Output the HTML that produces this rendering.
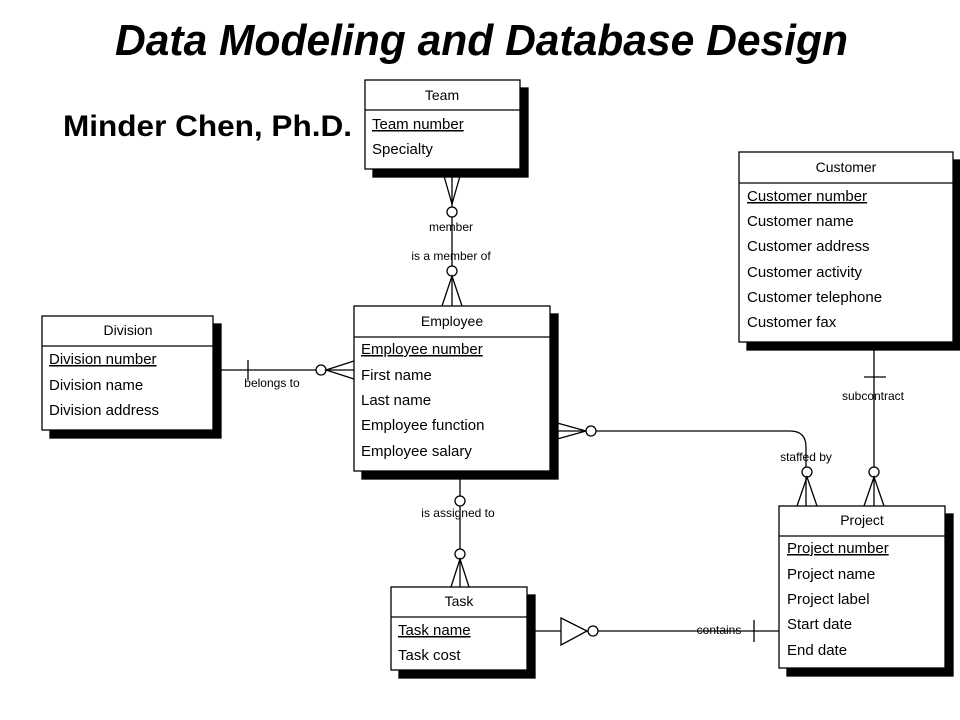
<!DOCTYPE html>
<html><head><meta charset="utf-8"><style>html,body{margin:0;padding:0;background:#fff}svg{display:block}</style></head>
<body>
<svg width="960" height="720" viewBox="0 0 960 720" xmlns="http://www.w3.org/2000/svg" font-family="Liberation Sans, Arial, sans-serif">
<rect width="960" height="720" fill="#fff"/>
<text x="115" y="55" font-size="44" font-weight="bold" font-style="italic" textLength="733" lengthAdjust="spacingAndGlyphs">Data Modeling and Database Design</text>
<text x="63" y="136" font-size="30" font-weight="bold" textLength="289" lengthAdjust="spacingAndGlyphs">Minder Chen, Ph.D.</text>

<g fill="none" stroke="#000" stroke-width="1.3">
<!-- Team-Employee -->
<line x1="452" y1="169" x2="452" y2="306"/>
<polyline points="442,169 452,204 462,169"/>
<circle cx="452" cy="212" r="5" fill="#fff"/>
<circle cx="452" cy="271" r="5" fill="#fff"/>
<polyline points="442,306 452,276 462,306"/>
<!-- Division-Employee -->
<line x1="213" y1="370" x2="354" y2="370"/>
<line x1="248" y1="360" x2="248" y2="380"/>
<circle cx="321" cy="370" r="5" fill="#fff"/>
<polyline points="354,361 326,370 354,379"/>
<!-- Employee-Project -->
<path d="M550 431 H790 Q806 431 806 447 V506"/>
<polyline points="550,421 586,431 550,441"/>
<circle cx="591" cy="431" r="5" fill="#fff"/>
<circle cx="807" cy="472" r="5" fill="#fff"/>
<polyline points="797,506 807,477 817,506"/>
<!-- Customer-Project -->
<line x1="874" y1="342" x2="874" y2="506"/>
<line x1="864" y1="377" x2="886" y2="377"/>
<circle cx="874" cy="472" r="5" fill="#fff"/>
<polyline points="864,506 874,477 884,506"/>
<!-- Employee-Task -->
<line x1="460" y1="471" x2="460" y2="587"/>
<circle cx="460" cy="501" r="5" fill="#fff"/>
<circle cx="460" cy="554" r="5" fill="#fff"/>
<polyline points="451,587 460,559 469,587"/>
<!-- Task-Project -->
<line x1="527" y1="631" x2="779" y2="631"/>
<polygon points="561,618 587,631 561,645" fill="#fff"/>
<circle cx="593" cy="631" r="5" fill="#fff"/>
<line x1="754" y1="620" x2="754" y2="642"/>
</g>

<g font-size="12" text-anchor="middle">
<text x="451" y="231" paint-order="stroke" stroke="#fff" stroke-width="0">member</text>
<text x="451" y="260">is a member of</text>
<text x="272" y="387">belongs to</text>
<text x="806" y="461">staffed by</text>
<text x="873" y="400">subcontract</text>
<text x="458" y="517">is assigned to</text>
<text x="719" y="634">contains</text>
</g>

<!-- Entities -->
<g stroke="#000" stroke-width="1.3">
<!-- Team -->
<rect x="373" y="88" width="155" height="89" fill="#000"/>
<rect x="365" y="80" width="155" height="89" fill="#fff"/>
<line x1="365" y1="110" x2="520" y2="110"/>
<!-- Customer -->
<rect x="747" y="160" width="214" height="190" fill="#000"/>
<rect x="739" y="152" width="214" height="190" fill="#fff"/>
<line x1="739" y1="183" x2="953" y2="183"/>
<!-- Division -->
<rect x="50" y="324" width="171" height="114" fill="#000"/>
<rect x="42" y="316" width="171" height="114" fill="#fff"/>
<line x1="42" y1="346" x2="213" y2="346"/>
<!-- Employee -->
<rect x="362" y="314" width="196" height="165" fill="#000"/>
<rect x="354" y="306" width="196" height="165" fill="#fff"/>
<line x1="354" y1="337" x2="550" y2="337"/>
<!-- Project -->
<rect x="787" y="514" width="166" height="162" fill="#000"/>
<rect x="779" y="506" width="166" height="162" fill="#fff"/>
<line x1="779" y1="536" x2="945" y2="536"/>
<!-- Task -->
<rect x="399" y="595" width="136" height="83" fill="#000"/>
<rect x="391" y="587" width="136" height="83" fill="#fff"/>
<line x1="391" y1="617" x2="527" y2="617"/>
</g>

<g font-size="14" text-anchor="middle">
<text x="442" y="100">Team</text>
<text x="846" y="172">Customer</text>
<text x="128" y="335">Division</text>
<text x="452" y="326">Employee</text>
<text x="862" y="525">Project</text>
<text x="459" y="606">Task</text>
</g>

<g font-size="15">
<text x="372" y="129" text-decoration="underline">Team number</text>
<text x="372" y="154">Specialty</text>

<text x="747" y="201" text-decoration="underline">Customer number</text>
<text x="747" y="226">Customer name</text>
<text x="747" y="251">Customer address</text>
<text x="747" y="277">Customer activity</text>
<text x="747" y="302">Customer telephone</text>
<text x="747" y="327">Customer fax</text>

<text x="49" y="364" text-decoration="underline">Division number</text>
<text x="49" y="390">Division name</text>
<text x="49" y="415">Division address</text>

<text x="361" y="354" text-decoration="underline">Employee number</text>
<text x="361" y="380">First name</text>
<text x="361" y="405">Last name</text>
<text x="361" y="430">Employee function</text>
<text x="361" y="456">Employee salary</text>

<text x="787" y="553" text-decoration="underline">Project number</text>
<text x="787" y="579">Project name</text>
<text x="787" y="604">Project label</text>
<text x="787" y="629">Start date</text>
<text x="787" y="655">End date</text>

<text x="398" y="635" text-decoration="underline">Task name</text>
<text x="398" y="660">Task cost</text>
</g>
</svg>
</body></html>
